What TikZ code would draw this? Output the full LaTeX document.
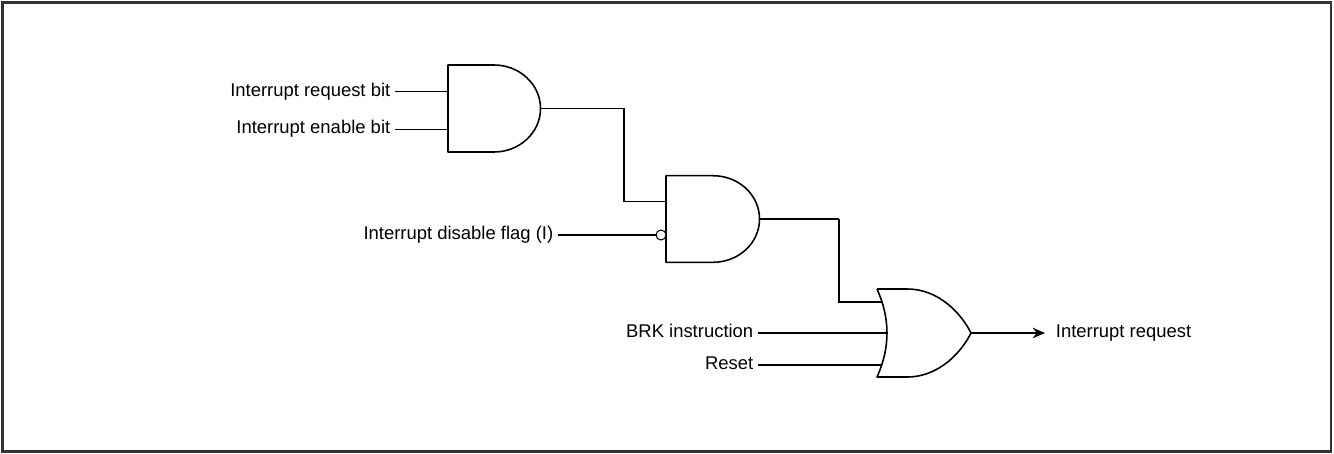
\documentclass[tikz,border=0pt]{standalone}
\usepackage{fontspec}
\setmainfont{Liberation Sans}
\usetikzlibrary{arrows.meta,positioning}

\begin{document}
\begin{tikzpicture}[x=0.02cm,y=-0.02cm,
    font=\fontsize{10.5}{12}\selectfont,
    lbl/.style={anchor=mid east,inner xsep=2.5pt,inner ysep=0pt},
    gate/.style={line width=0.9pt,line join=round},
    wire/.style={line width=0.6pt},
    buswire/.style={line width=1.1pt},
    frame/.style={line width=1.3pt,draw=black!80}]
    \useasboundingbox (0,0) rectangle (1334,453);
    \draw[frame] (2.5,2.5) rectangle (1331,451.5);

    % input and output labels
    \node[lbl] (reqbit) at (395,91.7) {Interrupt request bit};
    \node[lbl] (enbit) at (395,129.3) {Interrupt enable bit};
    \node[lbl] (iflag) at (558,235) {Interrupt disable flag (I)};
    \node[lbl] (brk) at (758,333) {BRK instruction};
    \node[lbl] (reset) at (758,365) {Reset};
    \node[anchor=mid west,inner xsep=6pt,inner ysep=0pt] (irq) at (1045,333) {Interrupt request};

    % first AND gate
    \draw[gate] (494,65) -- (448,65) -- (448,152) -- (494,152)
        .. controls (519.7,152) and (540.5,132.5) .. (540.5,108.5)
        .. controls (540.5,84.5) and (519.7,65) .. (494,65);
    \coordinate (g1a) at (448,91.7);
    \coordinate (g1b) at (448,129.3);
    \coordinate (g1o) at (540.5,108.5);

    % second AND gate, inverted input
    \draw[gate] (713,175.7) -- (666,175.7) -- (666,262.3) -- (713,262.3)
        .. controls (738.7,262.3) and (759.5,243) .. (759.5,219)
        .. controls (759.5,195) and (738.7,175.7) .. (713,175.7);
    \draw[wire,fill=white] (661,235) circle[radius=5];
    \coordinate (g2a) at (666,201.7);
    \coordinate (g2n) at (656,235);
    \coordinate (g2o) at (759.5,219);

    % OR gate
    \draw[gate] (877,289) -- (907,289)
        .. controls (940,289) and (962,315) .. (971,333)
        .. controls (962,351) and (940,377) .. (907,377) -- (877,377)
        .. controls (890.3,347.7) and (890.3,318.3) .. (877,289);
    \coordinate (g3a) at (881.9,301.7);
    \coordinate (g3b) at (887,333);
    \coordinate (g3c) at (881.7,365);
    \coordinate (g3o) at (971,333);

    \coordinate (bend1) at (624,108.5);
    \coordinate (bend2) at (839,219);

    \foreach \from/\to in {reqbit.mid east/g1a,enbit.mid east/g1b,iflag.mid east/g2n}
        \draw[wire] (\from) -- (\to);
    \foreach \from/\to in {brk.mid east/g3b,reset.mid east/g3c}
        \draw[buswire] (\from) -- (\to);

    \draw[wire] (g1o) -- (bend1) |- (g2a);
    \draw[wire] (g2o) -- (bend2);
    \draw[buswire] (bend2) |- (g3a);
    \draw[buswire,-{Stealth[length=7pt,width=6pt]}] (g3o) -- (irq.mid west);
\end{tikzpicture}
\end{document}
